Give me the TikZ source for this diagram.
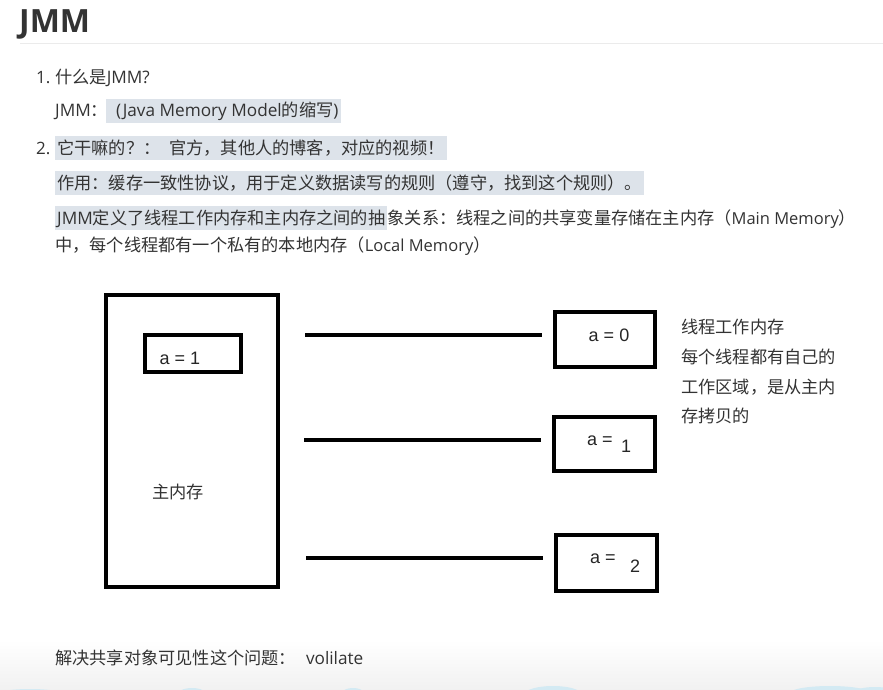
\documentclass[tikz,border=0pt]{standalone}
\usepackage{fontspec}
\setmainfont{Noto Sans CJK SC}
\newfontfamily\titlefont{Open Sans}
\newfontfamily\latfont{Open Sans}
\newfontfamily\figfont{Liberation Sans}
\usetikzlibrary{positioning}
\definecolor{txt}{HTML}{333333}
\definecolor{hl}{HTML}{DDE3EA}
\definecolor{rulegray}{HTML}{EBEBEB}
\definecolor{foot}{HTML}{F1F1F1}
\definecolor{cloud}{HTML}{D3EAF3}

\begin{document}
\begin{tikzpicture}[x=1pt, y=-1pt,
    txtline/.style={anchor=base west, inner sep=0pt, text=txt, font=\fontsize{17.2}{20}\selectfont},
    hilite/.style={txtline, fill=hl, inner xsep=2pt, inner ysep=4pt, text height=14pt, text depth=2pt},
    sidetxt/.style={anchor=west, inner sep=0pt, text=txt, font=\fontsize{17.2}{20}\selectfont},
    box/.style={draw, line width=4pt, inner sep=0pt},
    val/.style={inner sep=0pt, text=black!85, font=\figfont\fontsize{18}{20}\selectfont},
    wire/.style={line width=4pt, shorten >=11pt}]
  \fill[white] (0,0) rectangle (883,690);
  \useasboundingbox (0,0) rectangle (883,690);

  % ---- page footer: faint band with clouds ----------
  \begin{scope}
    \clip (0,0) rectangle (883,690);
    \shade[top color=white, bottom color=foot] (0,640) rectangle (883,690);
    \fill[cloud] (30,693) ellipse (30 and 4);
    \fill[cloud] (192,692) ellipse (12 and 4);
    \fill[cloud] (353,692) ellipse (10 and 4);
    \fill[cloud] (553,694) ellipse (28 and 8);
    \fill[cloud] (700,693) ellipse (20 and 3);
    \fill[cloud] (830,693) ellipse (40 and 7);
    \fill[cloud] (875,692) ellipse (20 and 5);
  \end{scope}

  % ---- heading and notes ----------------------------
  \node[anchor=base west, inner sep=0pt, text=txt,
        font=\titlefont\bfseries\fontsize{32}{34}\selectfont] (title) at (19,33) {JMM};
  \draw[rulegray, line width=1pt] (20,44) -- (883,44);

  \node[txtline, font=\latfont\fontsize{17}{20}\selectfont] (q1num) at (36,84) {1.};
  \node[txtline] (q1) at (55,84) {什么是{\latfont JMM?}};
  \node[txtline] (jmm) at (55,117) {{\latfont JMM}：};
  \node[hilite] (jmmhl) at (106,117) {\hspace{8pt}{\latfont (Java Memory Model}的缩写{\latfont )}\hspace{13pt}};
  \node[txtline, font=\latfont\fontsize{17}{20}\selectfont] (q2num) at (36,154) {2.};
  \node[hilite] (q2hl) at (55,154) {它干嘛的？：\hspace{9pt}官方，其他人的博客，对应的视频！\hspace{9pt}};
  \node[hilite] (use) at (55,189) {作用：缓存一致性协议，用于定义数据读写的规则（遵守，找到这个规则）。};
  \node[hilite] (defhl) at (55,224) {{\latfont JMM}定义了线程工作内存和主内存之间的抽};
  \node[txtline] (defrest) at (defhl.base east) {象关系：线程之间的共享变量存储在主内存（{\latfont\fontsize{16.5}{20}\selectfont Main Memory}）};
  \node[txtline] (def2) at (55,251) {中，每个线程都有一个私有的本地内存（{\latfont\fontsize{16.5}{20}\selectfont Local Memory}）};

  % ---- main memory ----------------------------------
  \node[box, minimum width=172pt, minimum height=292pt] (main) at (192,441) {};
  \node[box, minimum width=96pt, minimum height=37pt] (mainA) at (193,353.5) {};
  \node[val] (mainAval) at (180,358) {a = 1};
  \node[sidetxt, anchor=center] (mainlbl) at (178,492) {主内存};

  % ---- thread copies --------------------------------
  \node[box, minimum width=100pt, minimum height=55pt] (t0) at (605,339.5) {};
  \node[box, minimum width=101pt, minimum height=54pt] (t1) at (604.5,444) {};
  \node[box, minimum width=101pt, minimum height=56pt] (t2) at (606.5,563) {};

  \node[val] (t0val) at (609,335) {a = 0};
  \node[val] (t1eq) at (600,441) {a =};
  \node[val] (t1val) at (626,446) {1};
  \node[val] (t2eq) at (603,559) {a =};
  \node[val] (t2val) at (635,566) {2};

  % ---- wires between main and threads ---------------
  \coordinate (w0) at (305,335);
  \coordinate (w1) at (304,440);
  \coordinate (w2) at (306,558);
  \draw[wire] (w0) -- (w0 -| t0.west);
  \draw[wire] (w1) -- (w1 -| t1.west);
  \draw[wire] (w2) -- (w2 -| t2.west);

  % ---- side note -------------------------------------
  \node[sidetxt] (note1) at (681,327) {线程工作内存};
  \node[sidetxt] (note2) at (681,357) {每个线程都有自己的};
  \node[sidetxt] (note3) at (681,387) {工作区域，是从主内};
  \node[sidetxt] (note4) at (681,416) {存拷贝的};

  \node[txtline] (fix) at (55,664) {解决共享对象可见性这个问题：\hspace{10pt}{\latfont volilate}};
\end{tikzpicture}
\end{document}
